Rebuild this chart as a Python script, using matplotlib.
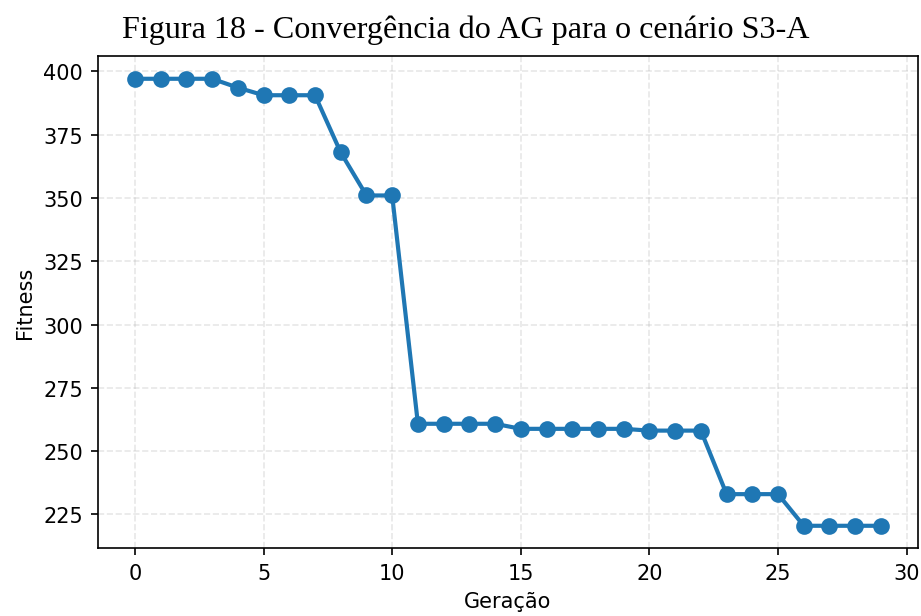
import matplotlib.pyplot as plt

# dados de convergência do AG (cenário S3-A)
geracao = list(range(30))
fitness = [397.1, 397.1, 397.1, 397.1, 393.6, 390.6, 390.6, 390.6, 368.0, 351.0,
           351.0, 260.8, 260.8, 260.8, 260.8, 258.8, 258.8, 258.8, 258.8, 258.8,
           258.1, 258.1, 258.1, 233.0, 233.0, 233.0, 220.5, 220.5, 220.5, 220.5]

fig, ax = plt.subplots(figsize=(6.14, 4.113), dpi=150)
ax.plot(geracao, fitness, marker='o', color='#1f77b4', linewidth=2, markersize=7)
ax.set_xlabel('Geração')
ax.set_ylabel('Fitness')
ax.grid(True, linestyle='--', alpha=0.3)

fig.suptitle('Figura 18 - Convergência do AG para o cenário S3-A',
             family='Liberation Serif', fontsize=15.4, x=0.506, y=0.975)
fig.subplots_adjust(left=0.106, right=0.997, top=0.907, bottom=0.11)
fig.savefig('out.png')
